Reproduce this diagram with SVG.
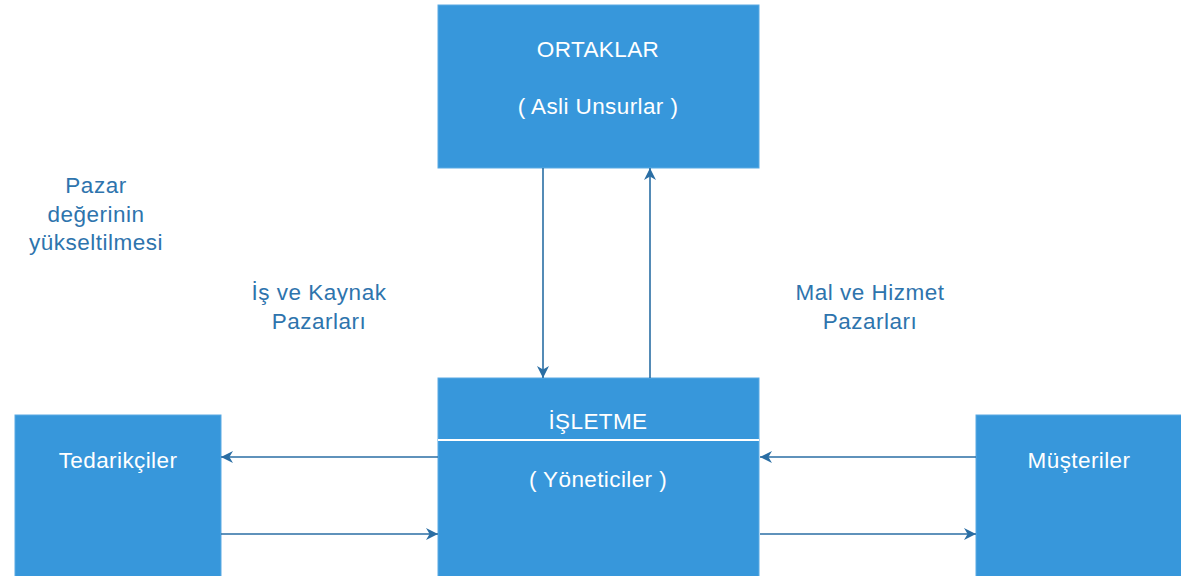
<svg xmlns="http://www.w3.org/2000/svg" width="1181" height="576" viewBox="0 0 1181 576">
<style>
.box{fill:#3797db;stroke:#5aaae3;stroke-width:1}
.wt{fill:#ffffff;font-family:"Liberation Sans",Arial,sans-serif;font-size:22.5px;letter-spacing:0.4px;text-anchor:middle}
.lb{fill:#2e74ad;font-family:"Liberation Sans",Arial,sans-serif;font-size:22.5px;letter-spacing:0.5px;text-anchor:middle}
.cn{stroke:#2a6ea4;stroke-width:1.6;fill:none;marker-end:url(#ah)}
</style>
<defs>
<marker id="ah" viewBox="0 0 10 10" refX="10" refY="5" markerWidth="12" markerHeight="12" markerUnits="userSpaceOnUse" orient="auto">
<path d="M0,0 L10,5 L0,10 L3,5 Z" fill="#2a6ea4"/>
</marker>
</defs>
<rect width="1181" height="576" fill="#ffffff"/>
<g id="ortaklar">
<rect class="box" x="438" y="5" width="321" height="163"/>
<text class="wt" x="598" y="57">ORTAKLAR</text>
<text class="wt" x="598" y="114">( Asli Unsurlar )</text>
</g>
<g id="isletme">
<rect class="box" x="438" y="378" width="321" height="200"/>
<line x1="438" y1="440" x2="759" y2="440" stroke="#ffffff" stroke-width="2"/>
<text class="wt" x="598" y="429">İŞLETME</text>
<text class="wt" x="598" y="487">( Yöneticiler )</text>
</g>
<g id="tedarikciler">
<rect class="box" x="15" y="415" width="206" height="163"/>
<text class="wt" x="118" y="468">Tedarikçiler</text>
</g>
<g id="musteriler">
<rect class="box" x="976" y="415" width="207" height="163"/>
<text class="wt" x="1079" y="468">Müşteriler</text>
</g>
<g id="labels">
<text class="lb" x="96" y="193">Pazar</text>
<text class="lb" x="96" y="222">değerinin</text>
<text class="lb" x="96" y="250">yükseltilmesi</text>
<text class="lb" x="319" y="300">İş ve Kaynak</text>
<text class="lb" x="319" y="329">Pazarları</text>
<text class="lb" x="870" y="300">Mal ve Hizmet</text>
<text class="lb" x="870" y="329">Pazarları</text>
</g>
<g id="connectors">
<line class="cn" x1="543" y1="168" x2="543" y2="378"/>
<line class="cn" x1="650" y1="378" x2="650" y2="168"/>
<line class="cn" x1="438" y1="457" x2="221" y2="457"/>
<line class="cn" x1="221" y1="534" x2="438" y2="534"/>
<line class="cn" x1="976" y1="457" x2="760" y2="457"/>
<line class="cn" x1="760" y1="534" x2="976" y2="534"/>
</g>
</svg>
